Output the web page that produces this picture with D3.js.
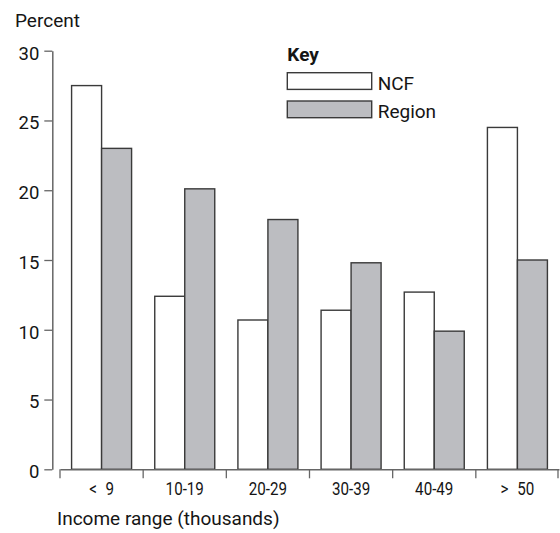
<!DOCTYPE html>
<html>
<head>
<meta charset="utf-8">
<script src="https://cdn.jsdelivr.net/npm/d3@7"></script>
<style>
  body { margin: 0; background: #fff; }
  svg { display: block; }
</style>
</head>
<body>
<script>
const categories = ["< 9", "10-19", "20-29", "30-39", "40-49", "> 50"];
const seriesNames = ["NCF", "Region"];
const ncf = [27.5, 12.4, 10.7, 11.4, 12.7, 24.5];
const region = [23.0, 20.1, 17.9, 14.8, 9.9, 15.0];
const yTicks = [0, 5, 10, 15, 20, 25, 30];
const yTitle = "Percent";
const xTitle = "Income range (thousands)";
const keyTitle = "Key";

const W = 560, H = 533;
const fillColors = { NCF: "#ffffff", Region: "#bcbdc1" };
const barStroke = "#3a3a3a";
const axisColor = "#666";
const textColor = "#151515";

const svg = d3.select("body").append("svg").attr("width", W).attr("height", H);

const y = d3.scaleLinear().domain([0, 30]).range([469.3, 50.7]);
const x = d3.scaleBand().domain(categories).range([60, 559]).padding(0);
const groupW = 60;
const x1 = d3.scaleBand().domain(seriesNames)
  .range([(x.bandwidth() - groupW) / 2, (x.bandwidth() + groupW) / 2]).padding(0);

const rows = categories.map((c, i) => ({ cat: c, NCF: ncf[i], Region: region[i] }));

// bars
const g = svg.append("g");
rows.forEach(r => {
  seriesNames.forEach(s => {
    g.append("rect")
      .attr("x", x(r.cat) + x1(s))
      .attr("y", y(r[s]))
      .attr("width", x1.bandwidth())
      .attr("height", y(0) - y(r[s]))
      .attr("fill", fillColors[s])
      .attr("stroke", barStroke)
      .attr("stroke-width", 1.4);
  });
});

// y axis
const yAxis = svg.append("g")
  .attr("transform", "translate(52.3,0)")
  .call(d3.axisLeft(y).tickValues(yTicks).tickSize(8).tickSizeOuter(0).tickPadding(5));
yAxis.select(".domain").attr("stroke", axisColor).attr("stroke-width", 1.5);
yAxis.selectAll(".tick line").attr("stroke", axisColor).attr("stroke-width", 1.3);
yAxis.selectAll(".tick text")
  .attr("font-family", "Roboto, 'Liberation Sans', sans-serif")
  .attr("font-size", 18.5)
  .attr("fill", textColor)
  .attr("dy", "0.45em");

// x axis
const xAxis = svg.append("g")
  .attr("transform", `translate(0,${y(0)})`)
  .call(d3.axisBottom(x).tickSize(0).tickSizeOuter(0).tickPadding(13));
xAxis.select(".domain").attr("stroke", axisColor).attr("stroke-width", 1.5);
xAxis.selectAll(".tick text")
  .attr("font-family", "Roboto, sans-serif")
  .attr("font-size", 18.5)
  .attr("fill", textColor)
  .attr("word-spacing", 6)
  .attr("transform", "scale(0.82,1)");
const bounds = categories.map(c => x(c)).concat([x.range()[1] - 1]);
xAxis.selectAll(".bound").data(bounds).enter().append("line")
  .attr("x1", d => d).attr("x2", d => d)
  .attr("y1", 0).attr("y2", 9)
  .attr("stroke", axisColor).attr("stroke-width", 1.3);

// titles
svg.append("text").attr("x", 15).attr("y", 26.7)
  .attr("font-family", "Roboto, sans-serif").attr("font-size", 19).attr("fill", textColor)
  .text(yTitle);
svg.append("text").attr("x", 57).attr("y", 524.5)
  .attr("font-family", "Roboto, sans-serif").attr("font-size", 19).attr("fill", textColor)
  .text(xTitle);

// legend
const lg = svg.append("g");
lg.append("text").attr("x", 287.3).attr("y", 60.7)
  .attr("font-family", "Roboto, sans-serif").attr("font-weight", "bold")
  .attr("font-size", 19).attr("fill", textColor).text(keyTitle);
const legendY = { NCF: 72.7, Region: 101 };
seriesNames.forEach(s => {
  lg.append("rect").attr("x", 287.3).attr("y", legendY[s])
    .attr("width", 84.4).attr("height", 16.7)
    .attr("fill", fillColors[s]).attr("stroke", barStroke).attr("stroke-width", 1.4);
  lg.append("text").attr("x", 377.7).attr("y", legendY[s] + 17.3)
    .attr("font-family", "Roboto, sans-serif").attr("font-size", 19).attr("fill", textColor)
    .text(s);
});
</script>
</body>
</html>
